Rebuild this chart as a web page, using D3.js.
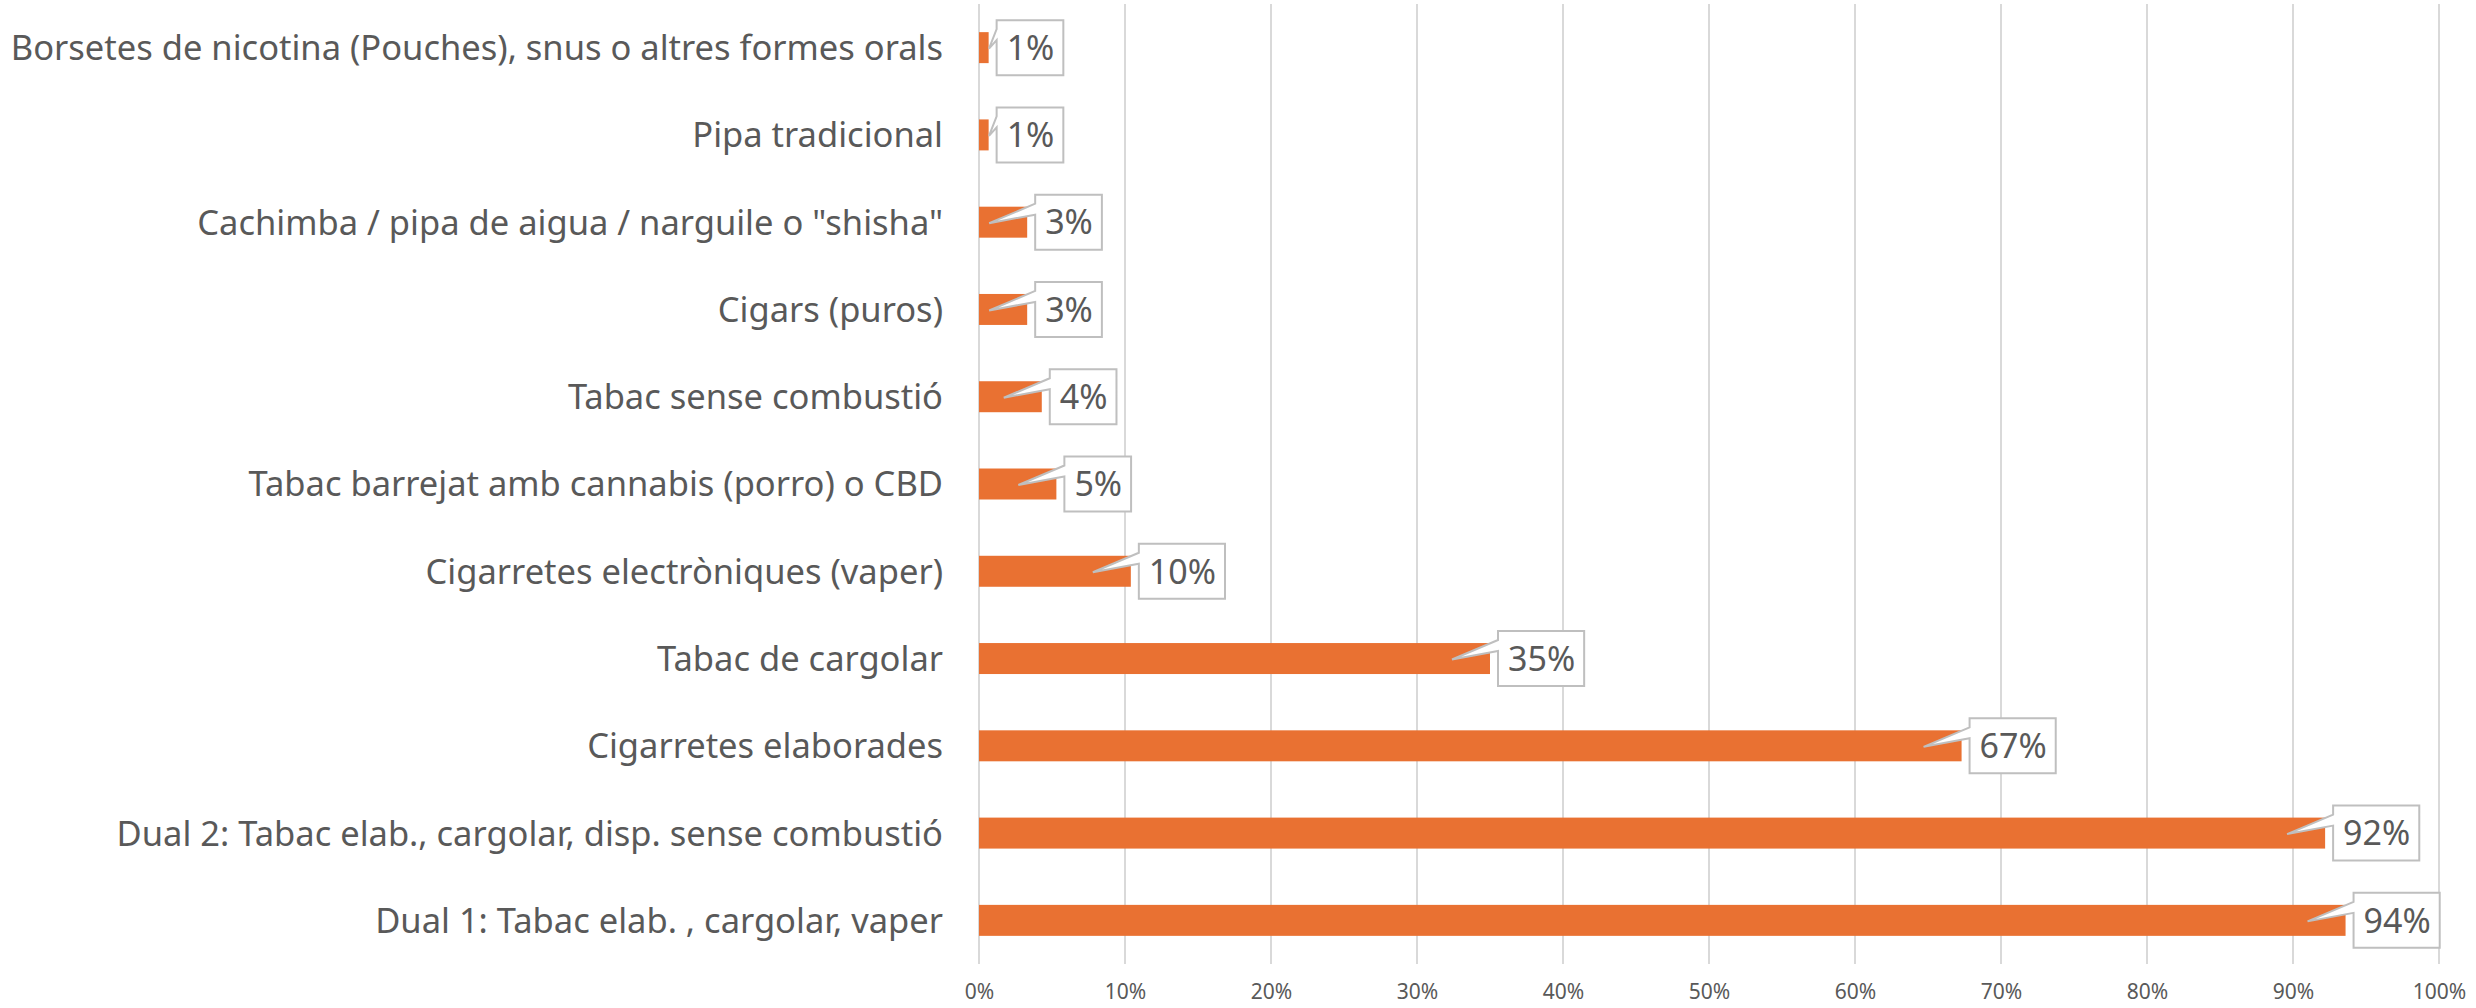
<!DOCTYPE html>
<html>
<head>
<meta charset="utf-8">
<script src="https://cdn.jsdelivr.net/npm/d3@7"></script>
<style>
  body { margin: 0; background: #fff; }
  svg text { font-family: "Noto Sans", "Open Sans", sans-serif; }
</style>
</head>
<body>
<div id="chart"></div>
<script>
const categories = [
  "Borsetes de nicotina (Pouches), snus o altres formes orals",
  "Pipa tradicional",
  "Cachimba / pipa de aigua / narguile o \"shisha\"",
  "Cigars (puros)",
  "Tabac sense combustió",
  "Tabac barrejat amb cannabis (porro) o CBD",
  "Cigarretes electròniques (vaper)",
  "Tabac de cargolar",
  "Cigarretes elaborades",
  "Dual 2: Tabac elab., cargolar, disp. sense combustió",
  "Dual 1: Tabac elab. , cargolar, vaper"
];
const values = [0.66, 0.66, 3.3, 3.3, 4.3, 5.3, 10.4, 35.0, 67.3, 92.2, 93.6];
const ticks = [0, 10, 20, 30, 40, 50, 60, 70, 80, 90, 100];

const width = 2476, height = 1008;
const x0 = 979, x1 = 2439, yTop = 4, yBot = 964;

const svg = d3.select("#chart").append("svg")
  .attr("width", width)
  .attr("height", height);

const x = d3.scaleLinear().domain([0, 100]).range([x0, x1]);
const y = d3.scaleBand().domain(categories).range([yTop, yBot])
  .paddingInner(0.645).paddingOuter(0.3225);

// gridlines
svg.append("g").selectAll("line")
  .data(ticks)
  .enter().append("line")
  .attr("x1", d => x(d)).attr("x2", d => x(d))
  .attr("y1", yTop).attr("y2", yBot)
  .style("stroke", "#d9d9d9")
  .style("stroke-width", 2);

// x tick labels
const xAxis = d3.axisBottom(x).tickValues(ticks).tickFormat(d => d + "%").tickSize(0).tickPadding(0);
const gx = svg.append("g").attr("transform", `translate(0, ${yBot + 20})`).call(xAxis);
gx.select(".domain").remove();
gx.selectAll("text")
  .style("font-size", "21px")
  .style("fill", "#595959")
  .style("font-family", "\"Noto Sans\", sans-serif");

// category labels
svg.append("g").selectAll("text")
  .data(categories)
  .enter().append("text")
  .attr("x", x0 - 36)
  .attr("y", d => y(d) + y.bandwidth() / 2)
  .attr("dy", "0.36em")
  .attr("text-anchor", "end")
  .style("font-size", "34.5px")
  .style("fill", "#595959")
  .text(d => d);

// bars
svg.append("g").selectAll("rect")
  .data(values)
  .enter().append("rect")
  .attr("x", x0)
  .attr("y", (d, i) => y(categories[i]))
  .attr("width", d => x(d) - x0)
  .attr("height", y.bandwidth())
  .style("fill", "#E97132");

// callout labels
const labels = svg.append("g").selectAll("g")
  .data(values)
  .enter().append("g");

labels.each(function(d, i) {
  const g = d3.select(this);
  const end = x(d);
  const cy = y(categories[i]) + y.bandwidth() / 2;
  const left = end + 8;
  const bh = 55;
  const top = cy - bh / 2;
  const t = g.append("text")
    .attr("x", left + 10)
    .attr("y", cy)
    .attr("dy", "0.36em")
    .style("font-size", "34px")
    .style("fill", "#595959")
    .text(Math.round(d) + "%");
  const tw = t.node().getComputedTextLength();
  const right = left + tw + 19;
  const bottom = top + bh;
  const tipX = Math.max(end - 38, x0 + 10), tipY = cy + 1;
  g.insert("path", "text")
    .attr("d", `M${left},${top} H${right} V${bottom} H${left} V${top + 20} L${tipX},${tipY} L${left},${top + 9} Z`)
    .style("fill", "#fff")
    .style("stroke", "#bfbfbf")
    .style("stroke-width", 2);
});
</script>
</body>
</html>
